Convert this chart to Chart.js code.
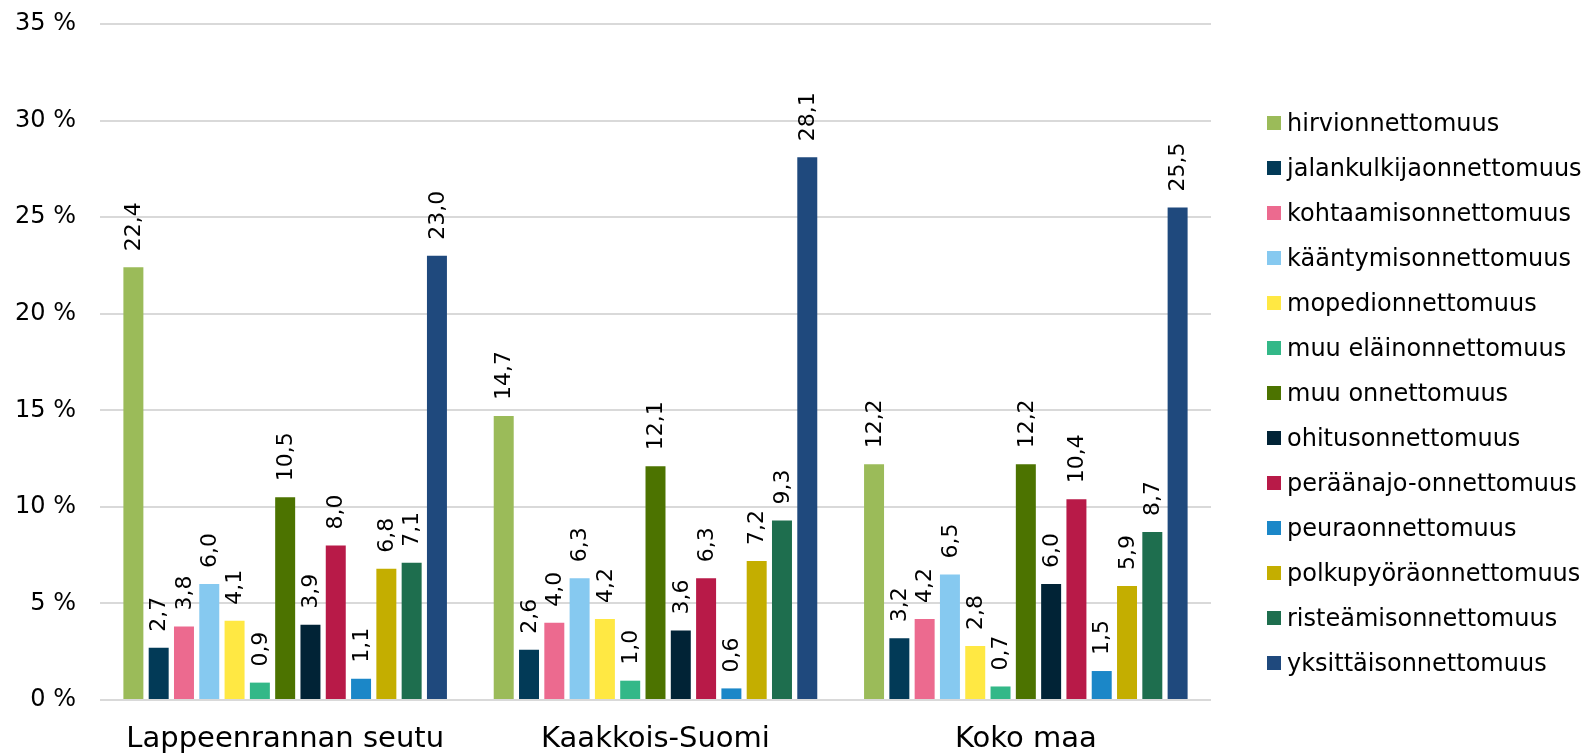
<!DOCTYPE html>
<html>
<head>
<meta charset="utf-8">
<script src="https://cdn.jsdelivr.net/npm/chart.js@4/dist/chart.umd.min.js"></script>
<style>
  html, body { margin: 0; padding: 0; background: #fff; }
  #wrap { position: relative; width: 1588px; height: 754px; }
  #legend { position: absolute; left: 1267px; top: 100px; font-family: 'DejaVu Sans', Verdana, sans-serif; font-size: 24px; color: #000; }
  .li { display: flex; align-items: center; height: 45px; white-space: nowrap; }
  .sw { width: 14px; height: 14px; margin-right: 6px; flex: none; }
</style>
</head>
<body>
<div id="wrap">
  <canvas id="c" width="1588" height="754"></canvas>
  <div id="legend"></div>
</div>
<script>
const categories = ['Lappeenrannan seutu', 'Kaakkois-Suomi', 'Koko maa'];
const seriesNames = ['hirvionnettomuus', 'jalankulkijaonnettomuus', 'kohtaamisonnettomuus', 'kääntymisonnettomuus', 'mopedionnettomuus', 'muu eläinonnettomuus', 'muu onnettomuus', 'ohitusonnettomuus', 'peräänajo-onnettomuus', 'peuraonnettomuus', 'polkupyöräonnettomuus', 'risteämisonnettomuus', 'yksittäisonnettomuus'];
const seriesColors = ['#9BBB59', '#023A57', '#EC6A8F', '#86C9F0', '#FFE843', '#33B888', '#4C7300', '#012336', '#B81A48', '#1B87C8', '#C4AE00', '#1E6E4E', '#1F497D'];
const lappeenrantaValues = [22.4, 2.7, 3.8, 6.0, 4.1, 0.9, 10.5, 3.9, 8.0, 1.1, 6.8, 7.1, 23.0];
const kaakkoisSuomiValues = [14.7, 2.6, 4.0, 6.3, 4.2, 1.0, 12.1, 3.6, 6.3, 0.6, 7.2, 9.3, 28.1];
const kokoMaaValues = [12.2, 3.2, 4.2, 6.5, 2.8, 0.7, 12.2, 6.0, 10.4, 1.5, 5.9, 8.7, 25.5];
const yTicks = [0, 5, 10, 15, 20, 25, 30, 35];

const regionValues = [lappeenrantaValues, kaakkoisSuomiValues, kokoMaaValues];
const datasets = seriesNames.map((name, i) => ({
  label: name,
  data: regionValues.map(r => r[i]),
  backgroundColor: seriesColors[i],
  borderWidth: 0,
  categoryPercentage: 0.888,
  barPercentage: 0.79
}));

const FONT = "'DejaVu Sans', Verdana, sans-serif";

const valueLabels = {
  id: 'valueLabels',
  afterDatasetsDraw(chart) {
    const ctx = chart.ctx;
    ctx.save();
    ctx.font = '22px ' + FONT;
    ctx.fillStyle = '#000';
    ctx.textAlign = 'left';
    ctx.textBaseline = 'middle';
    chart.data.datasets.forEach((ds, di) => {
      const meta = chart.getDatasetMeta(di);
      meta.data.forEach((bar, j) => {
        const v = ds.data[j];
        const txt = v.toFixed(1).replace('.', ',');
        ctx.save();
        ctx.translate(bar.x, bar.y - 16);
        ctx.rotate(-Math.PI / 2);
        ctx.fillText(txt, 0, 1);
        ctx.restore();
      });
    });
    ctx.restore();
  }
};

new Chart(document.getElementById('c'), {
  type: 'bar',
  data: { labels: categories, datasets },
  options: {
    responsive: false,
    devicePixelRatio: 1,
    animation: false,
    layout: { padding: { top: 24, right: 377, left: 0, bottom: 0 } },
    plugins: { legend: { display: false }, tooltip: { enabled: false } },
    scales: {
      x: {
        grid: { display: false, drawTicks: false },
        border: { display: false },
        ticks: { font: { family: FONT, size: 29 }, color: '#000', padding: 22, maxRotation: 0 },
        afterFit(s) { s.height = 54; }
      },
      y: {
        min: 0, max: 35,
        afterBuildTicks(s) { s.ticks = yTicks.map(v => ({ value: v })); },
        grid: { color: '#D9D9D9', lineWidth: 2, drawTicks: true, tickLength: 24, tickColor: 'rgba(0,0,0,0)' },
        border: { display: false },
        ticks: { font: { family: FONT, size: 24 }, color: '#000', padding: 0, callback: v => v + ' %' },
        afterFit(s) { s.width = 100; }
      }
    }
  },
  plugins: [valueLabels]
});

const legend = document.getElementById('legend');
seriesNames.forEach((n, i) => {
  const row = document.createElement('div');
  row.className = 'li';
  const sw = document.createElement('span');
  sw.className = 'sw';
  sw.style.background = seriesColors[i];
  const t = document.createElement('span');
  t.textContent = n;
  row.appendChild(sw);
  row.appendChild(t);
  legend.appendChild(row);
});
</script>
</body>
</html>
